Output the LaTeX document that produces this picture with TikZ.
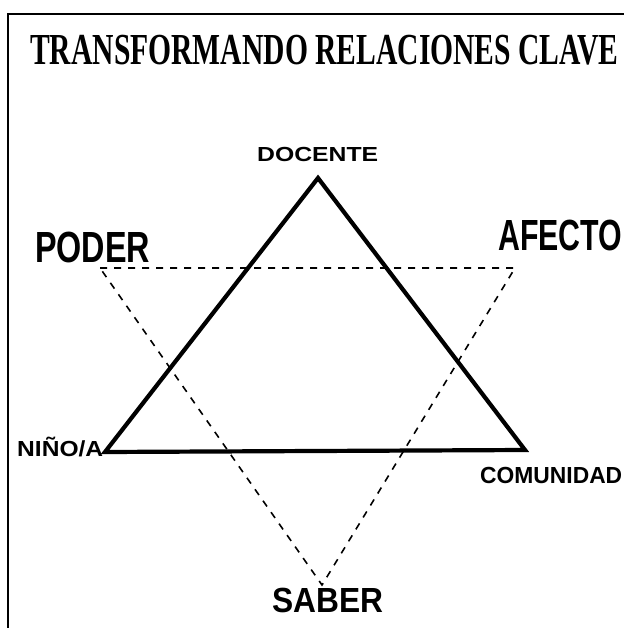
\documentclass[tikz,border=0pt]{standalone}
\usepackage{fontspec}
\usepackage{graphicx}
\setmainfont{Liberation Serif}
\newfontfamily\labfont{Liberation Sans}
\newcommand{\fitcaps}[3]{\resizebox{#1pt}{#2pt}{\raisebox{0pt}[\fontcharht\font`H][0pt]{#3}}}
\begin{document}
\begin{tikzpicture}[x=1pt,y=-1pt,
  lab/.style={inner sep=0pt,anchor=west,font=\labfont\bfseries},
  solidtri/.style={line width=4.2pt,line join=miter,line cap=butt},
  dashtri/.style={line width=1.6pt,dash pattern=on 7pt off 7pt}]
\useasboundingbox (0,0) rectangle (624,628);
\clip (0,0) rectangle (624,628);
\fill[white] (0,0) rectangle (624,628);
% frame
\coordinate (fl) at (8,628);
\coordinate (ftl) at (8,14);
\coordinate (ftr) at (624,14);
\draw[line width=2pt] (fl) -- (ftl) -- (ftr);
% title
\node[inner sep=0pt,anchor=west,font=\bfseries] (title) at (30,50)
  {\fitcaps{588}{29}{TRANSFORMANDO RELACIONES CLAVE}};
% solid triangle
\coordinate (doc) at (318,178);
\coordinate (nin) at (105,452);
\coordinate (com) at (525,450);
\draw[solidtri] (doc) -- (nin) -- (com) -- cycle;
% dashed triangle
\coordinate (pod) at (100,268);
\coordinate (afe) at (515,268);
\coordinate (sab) at (322,585);
\draw[dashtri] (pod) -- (afe) -- (sab) -- cycle;
% labels
\node[lab] (ldoc) at (257,154.5) {\fitcaps{121}{14}{DOCENTE}};
\node[lab] (lpod) at (35,247) {\fitcaps{115}{30}{PODER}};
\node[lab] (lafe) at (498,235) {\fitcaps{124}{30}{AFECTO}};
\node[lab] (lnin) at (17,448.5) {\fitcaps{86}{15}{NIÑO/A}};
\node[lab] (lcom) at (480,475) {\fitcaps{142}{16}{COMUNIDAD}};
\node[lab] (lsab) at (272,600) {\fitcaps{111}{24}{SABER}};
\end{tikzpicture}
\end{document}
